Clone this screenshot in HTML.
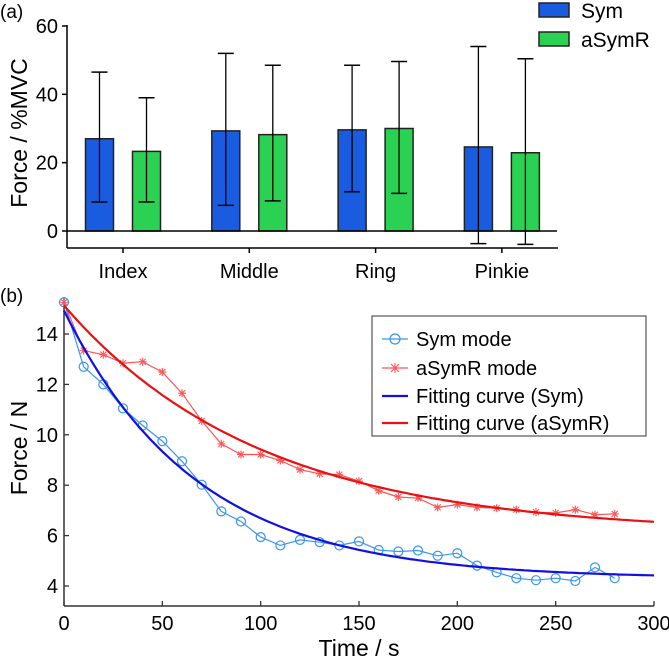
<!DOCTYPE html>
<html><head><meta charset="utf-8"><style>
body{margin:0;background:#fff;}
svg{display:block;font-family:"Liberation Sans",Arial,sans-serif;}
</style></head><body>
<svg id="s" width="669" height="658" viewBox="0 0 669 658">
<text x="0" y="18" font-size="19">(a)</text>
<text x="0" y="302" font-size="19">(b)</text>
<g id="top"></g>
<g id="bot"></g>
</svg>
<script>
const fingers=["Index","Middle","Ring","Pinkie"];
const symMean=[27,29.3,29.6,24.6];
const symLow=[8.5,7.5,11.5,-3.7];
const symHigh=[46.5,52,48.5,54];
const asyMean=[23.3,28.2,30,22.9];
const asyLow=[8.5,8.8,11,-3.9];
const asyHigh=[39,48.5,49.6,50.4];
const barTicks=[0,20,40,60];

const times=[0,10,20,30,40,50,60,70,80,90,100,110,120,130,140,150,160,170,180,190,200,210,220,230,240,250,260,270,280];
const symForce=[15.26,12.7,12.0,11.05,10.37,9.75,8.95,8.02,6.96,6.56,5.94,5.61,5.83,5.74,5.61,5.77,5.43,5.37,5.41,5.2,5.3,4.81,4.54,4.31,4.23,4.31,4.2,4.74,4.31];
const asyForce=[15.26,13.34,13.18,12.84,12.9,12.49,11.65,10.55,9.64,9.22,9.22,8.98,8.62,8.45,8.42,8.16,7.78,7.53,7.49,7.12,7.23,7.12,7.09,7.03,6.93,6.9,7.03,6.83,6.86];
const symFit=[4.3,10.63,67]; // a, b, tau
const asyFit=[6.1,9.03,100];
const xTicks=[0,50,100,150,200,250,300];
const yTicks=[4,6,8,10,12,14];

const NS="http://www.w3.org/2000/svg";
function mk(p,t,a,txt){const e=document.createElementNS(NS,t);for(const k in a)e.setAttribute(k,a[k]);if(txt!==undefined)e.textContent=txt;p.appendChild(e);return e;}

// ---- top bar chart
const T=document.getElementById('top');
const by=v=>231-v*3.417;
const bx=i=>123+i*126.3;
mk(T,'line',{x1:67,y1:by(60)-1,x2:67,y2:248,stroke:'#000','stroke-width':1.5});
mk(T,'line',{x1:67,y1:248,x2:558,y2:248,stroke:'#000','stroke-width':1.5});
barTicks.forEach(v=>{
 let t=mk(T,'text',{x:58,y:by(v)+7,'font-size':20,'text-anchor':'end'},String(v));
 
 
 mk(T,'line',{x1:62,y1:by(v),x2:67,y2:by(v),stroke:'#000','stroke-width':1.5});
});
let yt=mk(T,'text',{x:0,y:0,'font-size':23,'text-anchor':'middle',transform:'translate(27,133) rotate(-90)'},'Force / %MVC');


fingers.forEach((f,i)=>{
 const c=bx(i);
 mk(T,'line',{x1:c,y1:248,x2:c,y2:253,stroke:'#000','stroke-width':1.5});
 let l=mk(T,'text',{x:c,y:278,'font-size':20,'text-anchor':'middle'},f);
 
 
 [[symMean,symLow,symHigh,'#1a5ce0',-23.5,'sym'],[asyMean,asyLow,asyHigh,'#2bd152',23.5,'asymr']].forEach(s=>{
  const cx=c+s[4];
  let r=mk(T,'rect',{x:cx-14,y:by(s[0][i]),width:28,height:by(0)-by(s[0][i]),fill:s[3],stroke:'#222','stroke-width':1.5});
  
  
  mk(T,'line',{x1:cx,y1:by(s[1][i]),x2:cx,y2:by(s[2][i]),stroke:'#000','stroke-width':1.3});
  mk(T,'line',{x1:cx-8,y1:by(s[1][i]),x2:cx+8,y2:by(s[1][i]),stroke:'#000','stroke-width':1.5});
  mk(T,'line',{x1:cx-8,y1:by(s[2][i]),x2:cx+8,y2:by(s[2][i]),stroke:'#000','stroke-width':1.5});
 });
});
mk(T,'line',{x1:67,y1:by(0),x2:557,y2:by(0),stroke:'#000','stroke-width':1.5});
[['Sym','#1a5ce0',3],['aSymR','#2bd152',32]].forEach(L=>{
 let r=mk(T,'rect',{x:539,y:L[2],width:30,height:14,fill:L[1],stroke:'#222','stroke-width':1.5});
 
 
 let t=mk(T,'text',{x:581,y:L[2]+15,'font-size':21},L[0]);
 
 
});

// ---- bottom line chart
const B=document.getElementById('bot');
const lx=t=>64+t*(590/300);
const ly=v=>586-(v-4)*25.2;
mk(B,'line',{x1:64,y1:297,x2:64,y2:606,stroke:'#333','stroke-width':1.5});
mk(B,'line',{x1:64,y1:606,x2:654,y2:606,stroke:'#333','stroke-width':1.5});
xTicks.forEach(v=>{
 mk(B,'line',{x1:lx(v),y1:601,x2:lx(v),y2:606,stroke:'#333','stroke-width':1.3});
 let t=mk(B,'text',{x:lx(v),y:630,'font-size':20,'text-anchor':'middle'},String(v));
 
 
});
yTicks.forEach(v=>{
 mk(B,'line',{x1:64,y1:ly(v),x2:69,y2:ly(v),stroke:'#333','stroke-width':1.3});
 let t=mk(B,'text',{x:58,y:ly(v)+7,'font-size':20,'text-anchor':'end'},String(v));
 
 
});
let xt=mk(B,'text',{x:359,y:656,'font-size':23,'text-anchor':'middle'},'Time / s');


let yt2=mk(B,'text',{x:0,y:0,'font-size':23,'text-anchor':'middle',transform:'translate(27,448) rotate(-90)'},'Force / N');


function fitPath(p){let d='';for(let t=0;t<=300;t+=2){const v=p[0]+p[1]*Math.exp(-t/p[2]);d+=(t?'L':'M')+lx(t).toFixed(1)+','+ly(v).toFixed(1);}return d;}
function dataPath(arr){return times.map((t,i)=>(i?'L':'M')+lx(t).toFixed(1)+','+ly(arr[i]).toFixed(1)).join('');}
let ps=mk(B,'path',{d:dataPath(symForce),fill:'none',stroke:'#3a95f0','stroke-width':1.2});


let pa=mk(B,'path',{d:dataPath(asyForce),fill:'none',stroke:'#f55','stroke-width':1.2});


times.forEach((t,i)=>{
 let c=mk(B,'circle',{cx:lx(t),cy:ly(symForce[i]),r:4.5,fill:'none',stroke:'#3a95f0','stroke-width':1.2});
 
 
 const x=lx(t),y=ly(asyForce[i]);
 let g=mk(B,'path',{d:`M${x-4},${y}H${x+4}M${x},${y-4}V${y+4}M${x-3},${y-3}L${x+3},${y+3}M${x-3},${y+3}L${x+3},${y-3}`,stroke:'#f55','stroke-width':1.1});
 
 
});
let fs=mk(B,'path',{d:fitPath(symFit),fill:'none',stroke:'#1010e0','stroke-width':2.2});


let fa=mk(B,'path',{d:fitPath(asyFit),fill:'none',stroke:'#e81010','stroke-width':2.2});


// legend
let lb=mk(B,'rect',{x:372,y:316,width:274,height:120,fill:'#fff',stroke:'#333','stroke-width':1});


const legY=[339,368,396,423];
const legTxt=['Sym mode','aSymR mode','Fitting curve (Sym)','Fitting curve (aSymR)'];
const legCol=['#3a95f0','#f55','#1010e0','#e81010'];
legTxt.forEach((s,i)=>{
 mk(B,'line',{x1:382,y1:legY[i],x2:408,y2:legY[i],stroke:legCol[i],'stroke-width':i<2?1.2:2.2});
 if(i==0)mk(B,'circle',{cx:395,cy:legY[i],r:5,fill:'none',stroke:legCol[i],'stroke-width':1.2});
 if(i==1){const x=395,y=legY[i];mk(B,'path',{d:`M${x-5},${y}H${x+5}M${x},${y-5}V${y+5}M${x-4},${y-4}L${x+4},${y+4}M${x-4},${y+4}L${x+4},${y-4}`,stroke:legCol[i],'stroke-width':1.1});}
 let t=mk(B,'text',{x:416,y:legY[i]+7,'font-size':20},s);
 
 
});
</script>
</body></html>
